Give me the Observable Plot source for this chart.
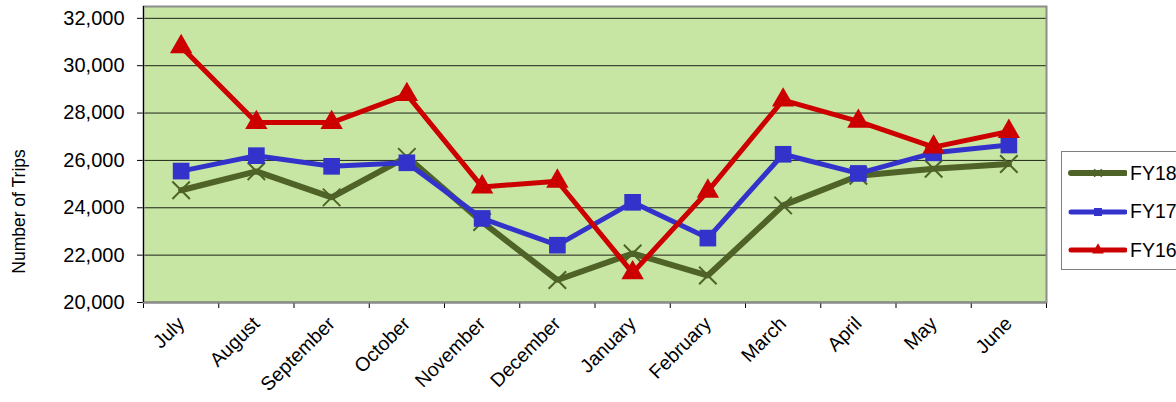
<!DOCTYPE html>
<html>
<head>
<meta charset="utf-8">
<script src="https://cdn.jsdelivr.net/npm/d3@7"></script>
<script src="https://cdn.jsdelivr.net/npm/@observablehq/plot@0.6"></script>
<style>
  html, body { margin: 0; padding: 0; background: #fff; overflow: hidden; }
  #wrap { position: relative; width: 1176px; height: 402px; font-family: "Liberation Sans", Arial, sans-serif; }
  #legend { position: absolute; left: 1061px; top: 151px; width: 130px; height: 119px; border: 1px solid #7f7f7f; background: #fff; box-sizing: border-box; }
  .item { position: absolute; left: 5px; height: 24px; display: flex; align-items: center; font-size: 19.5px; color: #000; }
  .item svg { display: block; margin-right: 3px; }
</style>
</head>
<body>
<div id="wrap"><div id="chart"></div><div id="legend"></div></div>
<script>
const months = ["July","August","September","October","November","December","January","February","March","April","May","June"];
const fy18 = [24740, 25540, 24440, 26150, 23400, 20950, 22070, 21140, 24100, 25350, 25650, 25850];
const fy17 = [25550, 26200, 25750, 25900, 23550, 22420, 24230, 22720, 26260, 25450, 26320, 26650];
const fy16 = [30800, 27600, 27600, 28780, 24880, 25120, 21250, 24700, 28550, 27650, 26560, 27220];
const yTicks = [20000, 22000, 24000, 26000, 28000, 30000, 32000];

const series = [
  {name: "FY18", values: fy18, color: "#4f6228", symbol: "times", r: 8, width: 6},
  {name: "FY17", values: fy17, color: "#3333cc", symbol: "square", r: 9.4, width: 5},
  {name: "FY16", values: fy16, color: "#cc0000", symbol: "triangle", r: 8.3, width: 5}
];

const rows = series.flatMap(s => s.values.map((v, i) => ({series: s.name, i, v})));

const marks = [
  Plot.frame({fill: "#c7e6a3"}),
  Plot.gridY(yTicks, {stroke: "#000", strokeOpacity: 0.85, strokeWidth: 1}),
  Plot.axisY({ticks: yTicks, tickFormat: d3.format(","), tickSize: 6, tickPadding: 13, fontSize: 20, label: null}),
  Plot.axisX({ticks: d3.range(12), tickFormat: i => months[i], tickSize: 0, tickRotate: -45, tickPadding: 18, fontSize: 19.5, label: null}),
  Plot.axisX({ticks: d3.range(-0.5, 12, 1), tickFormat: () => "", tickSize: 6, label: null}),
  Plot.text(["Number of Trips"], {frameAnchor: "left", textAnchor: "middle", rotate: -90, dx: -124, dy: 57, fontSize: 17.5, fill: "#000"})
];
for (const s of series) {
  const d = rows.filter(r => r.series === s.name);
  marks.push(Plot.line(d, {x: "i", y: "v", stroke: s.color, strokeWidth: s.width, strokeLinejoin: "miter", curve: "linear"}));
  if (s.symbol === "times") {
    marks.push(Plot.dot(d, {x: "i", y: "v", symbol: "times", r: s.r, stroke: s.color, strokeWidth: 2}));
  } else {
    marks.push(Plot.dot(d, {x: "i", y: "v", symbol: s.symbol, r: s.r, fill: s.color, stroke: "none"}));
  }
}
marks.push(Plot.ruleY([20000], {stroke: "#000", strokeWidth: 1.5}));
marks.push(Plot.frame({stroke: "#8c8c8c", strokeWidth: 2}));
marks.push(Plot.ruleX([-0.5], {stroke: "#000", strokeWidth: 1}));

const chart = Plot.plot({
  width: 1176,
  height: 402,
  marginLeft: 143,
  marginRight: 130,
  marginTop: 6,
  marginBottom: 100,
  style: {fontFamily: "'Liberation Sans', Arial, sans-serif", fontSize: "18px", color: "#000", background: "#fff", overflow: "visible"},
  x: {type: "linear", domain: [-0.5, 11.5]},
  y: {domain: [20000, 32500]},
  marks
});
document.getElementById("chart").appendChild(chart);

// legend
const legend = d3.select("#legend");
series.forEach((s, k) => {
  const item = legend.append("div").attr("class", "item").style("top", (9 + k * 38.5) + "px");
  const svg = item.append("svg").attr("width", 60).attr("height", 24);
  svg.append("line").attr("x1", 4).attr("x2", 58).attr("y1", 12).attr("y2", 12)
    .attr("stroke", s.color).attr("stroke-width", s.width).attr("stroke-linecap", "round");
  const sym = s.symbol === "times" ? d3.symbolTimes : s.symbol === "square" ? d3.symbolSquare : d3.symbolTriangle;
  const size = s.symbol === "times" ? 40 : s.symbol === "square" ? 64 : 60;
  const p = svg.append("path").attr("d", d3.symbol(sym, size)()).attr("transform", "translate(31,12)");
  if (s.symbol === "times") p.attr("fill", "none").attr("stroke", s.color).attr("stroke-width", 1.5);
  else p.attr("fill", s.color);
  item.append("span").text(s.name);
});
</script>
</body>
</html>
